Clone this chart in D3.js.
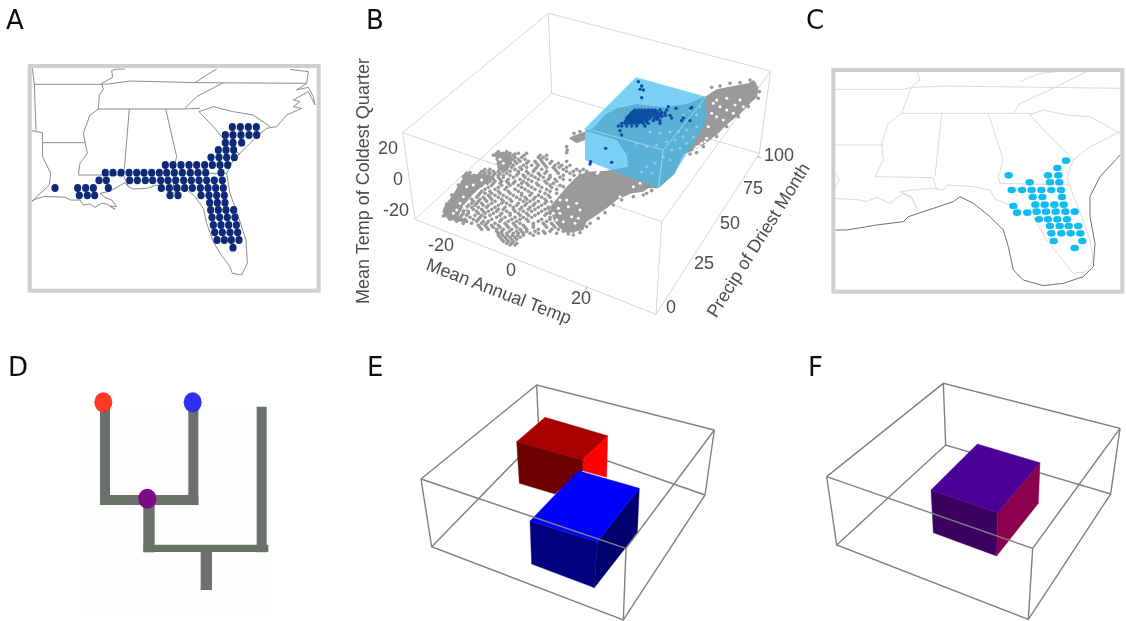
<!DOCTYPE html>
<html><head><meta charset="utf-8">
<script src="https://cdn.jsdelivr.net/npm/d3@7"></script>
<style>html,body{margin:0;padding:0;background:#fff}svg{display:block}</style>
</head><body><svg id="c" width="1126" height="621"></svg>
<script>
// ---------- DATA (all readings are in each panel's own picture units) ----------
const panelLetters = ["A","B","C","D","E","F"];

// Panel A: occurrence cells, [row, columns in the row]
const dotsA = [
[381,[697,721,745,769]],[405,[676,699,723,747,770]],[428,[676,699,725]],[450,[655,678,701]],
[472,[633,657,680,703]],[495,[496,519,543,567,590,614,637,660,683]],
[518,[316,339,363,387,410,432,455,478,500,523,547,571,594,617,663]],
[541,[297,319,389,412,436,458,482,504,527,551,574,597,620,643,667]],
[564,[165,233,257,280,325,484,508,531,554,577,601,624,647,670]],
[586,[238,262,284,510,534,603,627,650,673]],[608,[629,652,675]],[630,[632,655,678,701]],
[652,[636,659,682,705]],[675,[640,663,686,709]],[697,[644,667,690,713]],[720,[651,673,694,717]],[743,[699]]];

const bordersA = [
[[97,205],[103,253],[108,392]],
[[95,392],[127,398],[128,470],[152,520],[148,555],[110,590],[95,605]],
[[128,428],[255,428]],
[[103,253],[300,253],[325,252],[390,243],[590,248],[920,250]],
[[375,207],[345,208],[335,212],[338,232],[305,250],[310,268],[298,285],[295,327],[270,345],[250,400],[262,460],[240,490],[235,525],[370,525],[385,560]],
[[295,327],[555,327],[600,325]],
[[388,327],[372,520]],
[[497,327],[530,470],[522,500],[520,570]],
[[555,325],[590,290],[670,248]],[[585,248],[620,225],[650,207]],
[[597,335],[640,320],[700,335],[760,345],[810,380]],
[[597,335],[640,380],[665,410],[720,465]],
[[525,520],[680,520]],
[[95,605],[105,598],[130,590],[165,590],[195,592],[212,600],[240,600],[250,615],[270,612],[285,622],[305,610],[320,612],[345,628],[330,618],[350,620],[335,600],[315,592],[300,580],[325,575],[345,565],[375,548],[385,560],[400,567],[440,565],[470,555],[490,565],[520,578],[555,565],[585,590],[610,625],[620,670],[640,725],[660,760],[690,800],[697,820],[725,825],[742,790],[738,720],[715,650],[690,580],[680,520],[700,480],[740,440],[770,410],[800,385],[830,380],[860,345],[905,325],[880,320],[900,305],[880,300],[925,275],[945,315],[940,290],[925,262],[890,270],[920,250],[925,215],[870,208]]];

// Panel C: predicted cells
const dotsC = [
[482,[798]],[504,[772]],[526,[626,744,775]],[547,[689,750,778]],
[570,[635,666,695,724,754,783]],[591,[698,727,786]],[614,[706,734,763,791]],[618,[640]],
[635,[710,738,767,796,824]],[638,[651,682]],[658,[717,744,772,801]],[678,[750,779,806,835]],
[700,[754,784,812,841]],[723,[761,847]],[744,[824]]];

const bordersC = [
[[105,268],[305,268],[340,262],[430,258],[960,265]],
[[350,215],[360,240],[335,260],[320,300],[305,340],[265,370],[245,430],[250,480],[225,530],[400,533],[410,570]],
[[305,340],[640,340],[700,340]],
[[425,340],[405,530]],
[[565,340],[610,480],[595,530],[600,550],[810,555]],
[[640,340],[660,310],[760,265],[860,215]],
[[660,245],[720,220],[800,212]],
[[690,345],[730,330],[800,345],[870,350],[960,400]],
[[690,345],[740,400],[800,460],[825,480]],
[[105,435],[250,435]],
[[105,515],[118,540],[105,560]],
[[105,595],[180,600],[200,605],[230,592],[270,610],[310,580],[340,600],[350,625],[335,590],[300,575],[340,570],[400,565],[430,570],[440,555],[520,560],[570,570],[585,597],[640,620],[700,650],[740,720],[780,770],[820,820],[860,815],[880,780],[870,720],[845,650],[810,560],[800,530],[820,480],[870,440],[960,395]]];
const coastC = [[105,690],[140,690],[230,675],[310,665],[325,650],[400,625],[460,605],[480,590],[520,610],[570,650],[610,690],[625,740],[640,810],[670,840],[730,857],[790,850],[850,830],[880,800],[885,730],[870,650],[870,590],[900,530],[965,460]];

// Panel B: climate space
const cubeBack = [[[158,398],[595,40],[1262,213]],[[595,40],[605,280]],[[195,658],[605,280],[1228,460]]];
const cubeFront = [[[158,398],[935,665],[1262,213]],[[158,398],[195,658],[918,943],[1228,460],[1262,213]],[[935,665],[918,943]]];
const grayDense = [
[[705,392],[730,385],[765,345],[800,325],[860,312],[940,322],[1010,312],[1065,290],[1100,268],[1150,258],[1195,250],[1210,240],[1225,262],[1222,290],[1205,305],[1170,342],[1135,370],[1105,400],[1065,432],[1030,452],[1000,462],[975,520],[925,565],[895,565],[880,575],[845,580],[800,600],[770,625],[740,645],[710,665],[700,690],[650,700],[625,680],[610,660],[600,620],[625,590],[650,560],[680,530],[710,515],[770,512],[835,500],[830,465],[800,420],[750,405]],
[[282,640],[295,605],[345,525],[400,522],[435,530],[395,560],[345,600],[325,650],[355,668],[300,660]],
[[437,462],[480,460],[490,478],[470,515],[445,510]],
[[668,408],[705,395],[705,420],[680,430],[668,422]]];
const graySparse = [
[460,[440,450,460,470,480,505,530]],[472,[445,455,465,480,495,515,565,580]],
[484,[450,460,470,495,510,535,555,575,605,650]],[496,[450,460,475,490,520,545,565,585,615,635,660]],
[508,[405,420,455,470,495,515,555,575,615,640,680,700]],
[520,[350,390,405,420,435,450,470,505,535,565,585,625,660]],
[532,[350,360,380,395,410,425,445,460,490,525,555,580,600,630]],
[544,[360,375,390,405,420,435,455,470,495,520,545,585,620]],
[556,[345,360,375,395,425,455,480,505,535,565,600,630]],
[568,[330,345,360,370,405,435,465,495,525,555,590,620]],
[580,[320,335,350,365,390,405,425,450,480,515,545,585]],
[592,[310,325,340,355,380,400,420,445,470,500,525,555,575,600]],
[604,[300,315,330,345,370,385,410,435,460,485,520,540,565,590]],
[616,[290,305,320,355,375,400,415,445,480,500,525,550,575]],
[628,[285,300,315,330,345,370,395,425,445,460,490,510,535,555,585]],
[640,[285,300,310,340,355,385,405,430,455,480,505,530,565,590]],
[652,[295,315,330,360,390,405,440,465,495,520,545,600]],
[664,[320,350,380,400,415,450,475,500,535,565,590]],
[676,[385,405,425,445,470,495,520,550,585,610]],
[688,[395,415,440,460,485,510,530,565,605,625]],
[700,[445,455,470,490,505,520,540,565,585,620]],
[712,[450,465,480,495,510]],[724,[460,475,490]],[735,[480,495]],
[440,[650]],[450,[652]],[458,[650]],
[466,[437,448,458,468,478,490,522,570,590]],
[478,[442,452,462,475,488,505,525,572,590]],
[490,[445,455,468,482,500,530,560,580,600,625]],
[502,[447,458,470,485,510,530,560,590,610,628,650]],
[514,[400,415,430,445,460,480,505,530,550,590,620,650,670,690,710]],
[526,[345,358,372,385,400,415,430,445,460,480,500,520,545,570,600,640,672]],
[538,[345,355,370,385,400,415,430,450,475,510,535,565,595,615,640]],
[550,[340,352,368,382,400,412,430,450,475,490,515,530,560,590,610]],
[562,[335,350,365,380,415,445,470,515,545,575,605]],
[574,[325,340,355,372,395,420,445,475,505,535,570,600]],
[586,[315,330,345,360,385,415,435,460,490,515,540,565,595]],
[598,[305,320,335,350,365,390,405,425,455,480,510,530,550,585]],
[610,[295,310,325,340,365,380,395,425,455,470,505,530,555,585]],
[622,[288,303,318,333,350,365,385,410,435,465,490,515,540,565,595]],
[634,[283,295,310,325,340,355,380,400,415,440,470,495,520,545,575,600]],
[646,[288,305,320,335,350,375,395,420,450,480,510,535,555,585]],
[658,[300,315,335,345,370,385,425,455,485,510,530,575,600]],
[670,[340,365,395,410,435,465,490,510,550,580,605]],
[682,[390,410,430,450,475,500,525,550,590,615,640]],
[694,[440,455,478,500,515,530,555,580,600,640,670]],
[706,[445,458,472,488,503,520,550]],[718,[455,470,485,500]],[730,[470,485,500]]];
const grayEdge = [
[600,640],[595,625],[605,605],[620,580],[640,560],[660,540],[690,525],[655,702],[670,705],[690,698],[710,680],[720,670],[745,655],[765,638],[790,615],[815,600],[850,590],[880,585],[905,572],[890,580],
[1085,262],[1110,258],[1140,250],[1170,248],[1200,240],[1213,250],[1228,275],[1225,295],[1195,320],[1165,350],[1130,380],[1100,410],[1060,440],[1040,458],[1020,462],
[280,648],[290,612],[305,585],[325,555],[340,530],[360,518],[395,515],[430,465],[445,455],[470,455],[495,462],[665,415],[672,400],[690,395]];
const grayHoles = [
[900,395],[930,400],[960,395],[985,395],[1010,390],[1040,380],[975,420],[1000,410],[1030,410],[950,425],[920,435],[890,440],[860,430],[1010,430],[990,445],[965,450],[940,470],[960,480],[915,490],[890,500],[875,515],[905,520],[1020,330],[1040,345],[1050,320],[1000,345],
[1090,310],[1110,320],[1130,330],[1155,315],[1170,300],[1150,340],[1120,360],[1100,350],[1085,340],[1180,320],[1130,295],[1100,300],[1075,380],
[1040,440],[1055,430],[1065,425],[1035,448],[1048,438],[1070,415],
[630,640],[650,600],[680,610],[690,630],[640,665],[665,650],[745,515],[742,520],[810,590],[850,560],[870,550],
[320,630],[340,590],[370,555],[395,540],[345,625],[310,640],[350,560],[330,610],
[610,640],[625,625],[620,660],[655,620],[675,670],[685,655],[610,600],[630,600],[460,490],[450,478]];
const climateBox = [[858,232],[1068,290],[1068,368],[970,525],[925,565],[705,480],[705,385]];
const climateBoxEdges = [[[705,385],[940,450],[1068,290]],[[940,450],[925,565]]];
const blueRows = [
[330,[855,865,875,885,895,905,915,930,950]],[334,[850,860,870,880,890,900,910,920]],[338,[845,855,862,872,882,892,902,912,922,935,945]],
[342,[842,852,866,876,886,896,906,916,930]],[346,[838,848,856,866,876,886,896,906,916,926,936,946,960]],[350,[835,845,860,870,880,890,900,920,935]],
[354,[830,840,850,860,870,880,890,900,912,925,965,1000]],[358,[833,845,855,865,875,885,895,920]],
[362,[828,838,848,858,868,878,888,910,930,995,1020]],[366,[825,840,850,860,872,890]],[370,[815,825,835,845,855,865,880,895,930]],[378,[805,815,830,845,860,885]]];
const blueOutliers = [[865,245],[875,258],[870,268],[880,270],[875,293],[767,445],[722,485],[720,492],[815,405],[810,392],[955,320],[978,325],[1022,325],[1025,322],[785,487]];

const xTickValues = [-20,0,20], xTickX = [441,511,581], xTickY = [245,270,298];
const zTickValues = [-20,0,20], zTickRight = [409,403,398], zTickY = [210,179,148];
const pTickValues = [0,25,50,75,100], pTickX = [671,704,730,753,779], pTickY = [307,263,223,188,155];
const xMinorTicks = [-20,-15,-10,-5,0,5,10,15,20];
const pMinorTicks = [0,10,20,30,40,50,60,70,80,90,100];

// Panel D: tree branches [x0,y0,x1,y1,width] and tips
const treeBranches = [
[315,200,315,495,30],[300,480,595,480,30],[580,200,580,495,30],[447,480,447,637,34],
[430,625,805,625,22],[785,200,785,637,30],[619,625,619,750,34]];
const treeTips = [[310,187,"#f93a28"],[578,187,"#2f2ff5"],[442,476,"#7a0a85"]];

// Panels E, F: wire boxes and blocks
const wireBackE = [[[183,417],[530,135],[1063,270]],[[530,135],[537,290]],[[215,620],[537,290],[1035,465]]];
const wireFrontE = [[[183,417],[215,620],[790,840],[1035,465],[1063,270]],[[183,417],[798,625],[1063,270]],[[798,625],[790,840]]];
const redFaces = [
[[[470,305],[555,232],[743,287],[668,360]],"#a80000"],
[[[668,360],[743,287],[740,412],[668,392]],"#ff0000"],
[[[470,305],[668,360],[668,392],[585,462],[478,430]],"#6e0000"]];
const blueFaces = [
[[[510,543],[712,605],[703,743],[515,672]],"#000080"],
[[[712,605],[838,445],[832,578],[703,743]],"#00006e"],
[[[655,392],[838,445],[712,605],[510,543]],"#0000ff"]];
const wireBackF = [[[110,410],[460,130],[990,265]],[[460,130],[467,315]],[[140,615],[467,315],[962,462]]];
const wireFrontF = [[[110,410],[140,615],[715,838],[962,462],[990,265]],[[110,410],[728,625],[990,265]],[[728,625],[715,838]]];
const purpleFaces = [
[[[423,450],[623,518],[620,648],[430,578]],"#3b0060"],
[[[623,518],[750,368],[745,490],[620,648]],"#8a0050"],
[[[562,312],[750,368],[623,518],[423,450]],"#4b0096"]];

// ---------- DRAWING ----------
const root = d3.select("#c");
root.append("defs").append("filter").attr("id","soft")
  .attr("filterUnits","userSpaceOnUse").attr("x",0).attr("y",0).attr("width",1126).attr("height",621)
  .append("feGaussianBlur").attr("stdDeviation",0.5);
const svg = root.append("g").attr("filter","url(#soft)");
function panel(ox, oy){
  const sx = d3.scaleLinear().domain([0,1000]).range([ox,ox+1000/3]);
  const sy = d3.scaleLinear().domain([0,1000]).range([oy,oy+1000/3]);
  const line = d3.line().x(d=>sx(d[0])).y(d=>sy(d[1]));
  return {sx,sy,line};
}
const flat = rows => rows.flatMap(([y,xs])=>xs.map(x=>[x,y]));

// Panel letters
const letterX = [6,366,806,8,367,808], letterY = [29,29,29,376,376,376];
svg.selectAll("text.letter").data(panelLetters).join("text").attr("class","letter")
  .attr("x",(d,i)=>letterX[i]).attr("y",(d,i)=>letterY[i]).text(d=>d)
  .attr("font-family","DejaVu Sans").attr("font-size",26).attr("fill","#111");

function mapPanel(ox, oy, frame, borders, borderCol, dots, rx, ry, dotCol, id, extra){
  const p = panel(ox,oy), g = svg.append("g");
  g.append("clipPath").attr("id",id).append("rect")
    .attr("x",p.sx(frame[0])).attr("y",p.sy(frame[1]))
    .attr("width",p.sx(frame[2])-p.sx(frame[0])).attr("height",p.sy(frame[3])-p.sy(frame[1]));
  const inner = g.append("g").attr("clip-path",`url(#${id})`);
  inner.selectAll("path.b").data(borders).join("path").attr("class","b").attr("d",p.line)
    .attr("fill","none").attr("stroke",borderCol).attr("stroke-width",0.9);
  if(extra) inner.append("path").attr("d",p.line(extra)).attr("fill","none").attr("stroke","#707070").attr("stroke-width",1);
  g.append("rect").attr("x",p.sx(frame[0])).attr("y",p.sy(frame[1]))
    .attr("width",p.sx(frame[2])-p.sx(frame[0])).attr("height",p.sy(frame[3])-p.sy(frame[1]))
    .attr("fill","none").attr("stroke","#cfcfcf").attr("stroke-width",4);
  g.selectAll("ellipse").data(flat(dots)).join("ellipse")
    .attr("cx",d=>p.sx(d[0])).attr("cy",d=>p.sy(d[1])).attr("rx",rx).attr("ry",ry).attr("fill",dotCol);
}
mapPanel(0,0,[89,198,956,872],bordersA,"#808080",dotsA,3.6,3.9,"#0b2a78","clipA");
mapPanel(800,0,[100,210,967,875],bordersC,"#d6d6d6",dotsC,4.2,3.3,"#0abcf5","clipC",coastC);

// Panel B
{
  const p = panel(350,0), g = svg.append("g");
  const wire = (data,col,w)=>g.append("g").selectAll("path").data(data).join("path").attr("d",p.line)
    .attr("fill","none").attr("stroke",col).attr("stroke-width",w);
  wire(cubeBack,"#d8d8d8",1);
  wire(cubeFront,"#d6d6d6",1);
  // minor ticks along the box edges
  const xe = d3.scaleLinear().domain([-20,20]).range([[270,690],[710,860]]);
  const tickSeg = (pts,dx,dy)=>g.append("g").selectAll("line").data(pts).join("line")
    .attr("x1",d=>p.sx(d[0])).attr("y1",d=>p.sy(d[1])).attr("x2",d=>p.sx(d[0]+dx)).attr("y2",d=>p.sy(d[1]+dy))
    .attr("stroke","#cfcfcf").attr("stroke-width",0.9);
  tickSeg(xMinorTicks.map(xe),-3,10);
  const pe = d3.scaleLinear().domain([0,100]).range([[925,932],[1222,470]]);
  tickSeg(pMinorTicks.map(pe),10,3);

  g.selectAll("path.dense").data(grayDense).join("path").attr("class","dense")
    .attr("d",d=>p.line(d)+"Z").attr("fill","#999");
  g.selectAll("circle.sp").data(flat(graySparse).concat(grayEdge)).join("circle").attr("class","sp")
    .attr("cx",d=>p.sx(d[0])).attr("cy",d=>p.sy(d[1])).attr("r",1.8).attr("fill","#999");
  g.selectAll("circle.hole").data(grayHoles).join("circle").attr("class","hole")
    .attr("cx",d=>p.sx(d[0])).attr("cy",d=>p.sy(d[1])).attr("r",1.5).attr("fill","#fff");
  g.append("path").attr("d",p.line(climateBox)+"Z").attr("fill","#3cb9f0").attr("fill-opacity",0.68);
  wire(climateBoxEdges,"#a9dcf2",0.8);
  g.selectAll("circle.bl").data(flat(blueRows).concat(blueOutliers)).join("circle").attr("class","bl")
    .attr("cx",d=>p.sx(d[0])).attr("cy",d=>p.sy(d[1])).attr("r",1.7).attr("fill","#0a4ea2");

  // Ticks, each through its own position scales
  const fam = "Liberation Sans", col = "#4d4d4d";
  const txt = (sel)=>sel.attr("font-family",fam).attr("font-size",18).attr("fill",col);
  const xX = d3.scaleLinear().domain(xTickValues).range(xTickX), xY = d3.scaleLinear().domain(xTickValues).range(xTickY);
  txt(g.append("g").selectAll("text").data(xTickValues).join("text").attr("text-anchor","middle").attr("dy","0.35em")
    .attr("x",d=>xX(d)).attr("y",d=>xY(d)).text(d=>d));
  const zX = d3.scaleLinear().domain(zTickValues).range(zTickRight), zY = d3.scaleLinear().domain(zTickValues).range(zTickY);
  txt(g.append("g").selectAll("text").data(zTickValues).join("text").attr("text-anchor","end").attr("dy","0.35em")
    .attr("x",d=>zX(d)).attr("y",d=>zY(d)).text(d=>d));
  const pX = d3.scaleLinear().domain(pTickValues).range(pTickX), pY = d3.scaleLinear().domain(pTickValues).range(pTickY);
  txt(g.append("g").selectAll("text").data(pTickValues).join("text").attr("text-anchor","middle").attr("dy","0.35em")
    .attr("x",d=>pX(d)).attr("y",d=>pY(d)).text(d=>d));
  // Axis titles
  const title = (t,x,y,a)=>txt(g.append("text").attr("text-anchor","middle").attr("dy","0.35em")
    .attr("transform",`translate(${x},${y}) rotate(${a})`).text(t));
  title("Mean Temp of Coldest Quarter",363,181,-90);
  title("Mean Annual Temp",499,291,21);
  title("Precip of Driest Month",758,240,-58);
}

// Panel D
{
  const p = panel(0,340), g = svg.append("g");
  g.append("rect").attr("x",p.sx(235)).attr("y",p.sy(190)).attr("width",p.sx(815)-p.sx(235)).attr("height",p.sy(825)-p.sy(190)).attr("fill","#fefefe");
  g.selectAll("line").data(treeBranches).join("line")
    .attr("x1",d=>p.sx(d[0])).attr("y1",d=>p.sy(d[1])).attr("x2",d=>p.sx(d[2])).attr("y2",d=>p.sy(d[3]))
    .attr("stroke","#6b6f6b").attr("stroke-width",d=>d[4]/3);
  g.selectAll("ellipse").data(treeTips).join("ellipse")
    .attr("cx",d=>p.sx(d[0])).attr("cy",d=>p.sy(d[1])).attr("rx",9).attr("ry",10).attr("fill",d=>d[2]);
}

// Panels E, F
function blockPanel(ox,oy,back,front,blocks){
  const p = panel(ox,oy), g = svg.append("g");
  const wire = d=>g.append("g").selectAll("path").data(d).join("path").attr("d",p.line)
    .attr("fill","none").attr("stroke","#808080").attr("stroke-width",1.4);
  wire(back);
  blocks.forEach(faces=>g.append("g").selectAll("path").data(faces).join("path")
    .attr("d",d=>p.line(d[0])+"Z").attr("fill",d=>d[1]).attr("stroke",d=>d[1]).attr("stroke-width",0.4));
  wire(front);
}
blockPanel(360,340,wireBackE,wireFrontE,[redFaces,blueFaces]);
blockPanel(790,340,wireBackF,wireFrontF,[purpleFaces]);
</script></body></html>
